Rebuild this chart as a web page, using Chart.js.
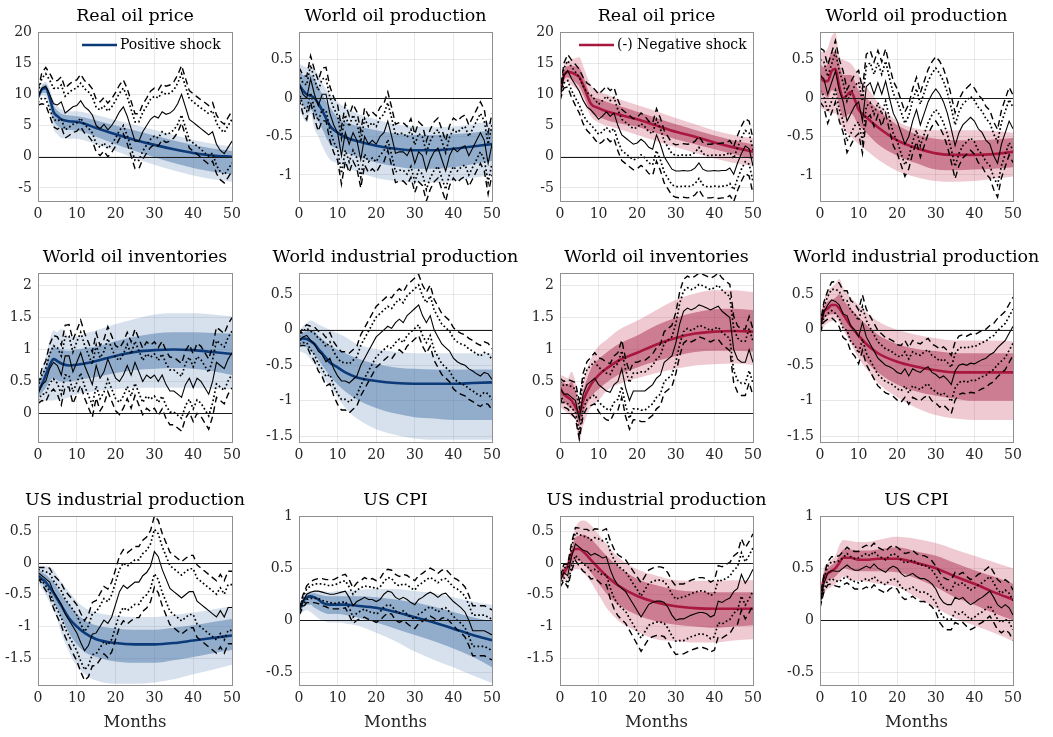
<!DOCTYPE html>
<html>
<head>
<meta charset="utf-8">
<script src="https://cdn.jsdelivr.net/npm/chart.js@4.4.1/dist/chart.umd.min.js"></script>
<style>
  html, body { margin: 0; padding: 0; background: #fff; width: 1053px; height: 737px; overflow: hidden; }
  canvas { position: absolute; }
</style>
</head>
<body>
<script>
// horizons
const months = [0,1,2,3,4,5,6,7,8,9,10,11,12,13,14,15,16,17,18,19,20,21,22,23,24,25,26,27,28,29,30,31,32,33,34,35,36,37,38,39,40,41,42,43,44,45,46,47,48,49,50];
const bandMonths = [0,1,2,3,4,5,6,8,10,12,15,20,25,30,35,40,45,50];
const xTicks = [0, 10, 20, 30, 40, 50];

// tick labels
const yTicksPrice = [-5, 0, 5, 10, 15, 20];
const yTicksProd = [-1, -0.5, 0, 0.5];
const yTicksInv = [0, 0.5, 1, 1.5, 2];
const yTicksIp = [-1.5, -1, -0.5, 0, 0.5];
const yTicksCpi = [-0.5, 0, 0.5, 1];

// ---- Real oil price, positive shock
const rpPosMed   = [9.5,10.8,11.0,9.5,7.2,6.5,6.0,5.7,5.6,5.3,4.6,3.6,2.7,1.9,1.2,0.6,0.2,0.0];
const rpPosInHi  = [9.8,11.3,11.6,10.3,8.2,7.4,6.9,6.6,6.5,6.3,5.8,5.0,4.2,3.4,2.6,1.9,1.3,0.9];
const rpPosInLo  = [9.2,10.2,10.2,8.4,5.8,5.0,4.5,4.3,4.2,3.9,3.2,2.0,0.9,-0.1,-1.0,-1.8,-2.4,-2.8];
const rpPosOutHi = [10.0,11.6,12.0,11.0,9.0,8.1,7.6,7.3,7.3,7.1,6.7,5.9,5.1,4.3,3.5,2.7,2.1,1.6];
const rpPosOutLo = [9.0,9.8,9.6,7.5,4.5,3.6,3.0,2.9,2.9,2.6,2.0,0.9,-0.3,-1.3,-2.2,-3.0,-3.6,-4.0];
const rpPosLP = [9.5,11.0,11.3,10.0,8.5,8.3,8.8,7.0,7.5,8.0,8.2,
  9.0,8.0,7.5,6.7,5.0,4.5,5.2,4.3,5.0,6.0,
  7.2,8.0,6.5,4.5,2.5,2.5,4.0,5.0,6.0,6.5,
  6.2,7.2,6.8,7.0,7.5,8.5,10.0,8.0,6.0,5.5,
  5.0,4.5,4.0,3.5,4.0,2.0,1.0,0.5,1.5,2.5];
const rpPosSe68 = [0.8,1.6,2.0,2.3,2.5,2.6,2.7,2.7,2.8,2.8,2.8,
  2.8,2.9,2.9,2.9,2.9,3.0,3.0,3.0,3.0,3.0,
  3.0,3.0,3.1,3.1,3.1,3.1,3.1,3.1,3.2,3.2,
  3.2,3.2,3.2,3.2,3.2,3.3,3.3,3.3,3.3,3.3,
  3.3,3.3,3.4,3.4,3.4,3.4,3.4,3.4,3.5,3.5];
const rpPosSe90 = [1.2,2.5,3.0,3.4,3.7,3.9,4.0,4.0,4.1,4.1,4.1,
  4.2,4.2,4.2,4.2,4.2,4.3,4.3,4.3,4.3,4.3,
  4.3,4.3,4.4,4.4,4.4,4.4,4.4,4.4,4.5,4.5,
  4.5,4.5,4.5,4.5,4.5,4.6,4.6,4.6,4.6,4.6,
  4.6,4.6,4.7,4.7,4.7,4.7,4.7,4.7,4.8,4.8];

// ---- World oil production, positive shock
const wpPosMed   = [0.18,0.1,0.05,0.03,0.0,-0.07,-0.16,-0.36,-0.45,-0.51,-0.56,-0.62,-0.66,-0.68,-0.68,-0.66,-0.63,-0.6];
const wpPosInHi  = [0.35,0.3,0.28,0.3,0.25,0.15,0.05,-0.12,-0.25,-0.31,-0.36,-0.42,-0.46,-0.48,-0.48,-0.47,-0.45,-0.42];
const wpPosInLo  = [0.0,-0.08,-0.15,-0.15,-0.22,-0.3,-0.4,-0.6,-0.66,-0.71,-0.76,-0.84,-0.89,-0.92,-0.92,-0.9,-0.86,-0.82];
const wpPosOutHi = [0.45,0.42,0.4,0.42,0.38,0.3,0.2,0.05,-0.05,-0.12,-0.2,-0.28,-0.34,-0.37,-0.38,-0.37,-0.34,-0.3];
const wpPosOutLo = [-0.15,-0.25,-0.32,-0.2,-0.4,-0.5,-0.62,-0.8,-0.85,-0.9,-0.96,-1.04,-1.08,-1.1,-1.1,-1.08,-1.04,-1.0];
const wpPosLP = [0.2,0.05,0.0,0.25,0.05,-0.1,0.05,0.05,-0.2,-0.35,-0.45,
  -0.75,-0.45,-0.6,-0.45,-0.55,-0.8,-0.5,-0.6,-0.55,-0.6,
  -0.5,-0.45,-0.3,-0.5,-0.72,-0.7,-0.7,-0.75,-0.65,-0.85,
  -0.7,-0.75,-0.95,-0.8,-0.7,-0.65,-0.8,-0.95,-0.75,-0.65,
  -0.7,-0.65,-0.62,-0.75,-0.65,-0.55,-0.45,-0.55,-0.85,-0.6];
const wpPosSe68 = [0.12,0.15,0.17,0.18,0.19,0.2,0.2,0.21,0.21,0.22,0.22,
  0.23,0.23,0.23,0.23,0.23,0.23,0.23,0.23,0.23,0.23,
  0.24,0.24,0.24,0.24,0.24,0.24,0.24,0.24,0.24,0.24,
  0.24,0.24,0.24,0.24,0.24,0.24,0.24,0.24,0.24,0.24,
  0.25,0.25,0.25,0.25,0.25,0.25,0.25,0.25,0.25,0.25];
const wpPosSe90 = [0.2,0.25,0.28,0.3,0.32,0.33,0.34,0.35,0.35,0.36,0.36,
  0.37,0.37,0.37,0.37,0.37,0.37,0.37,0.37,0.37,0.37,
  0.38,0.38,0.38,0.38,0.38,0.38,0.38,0.38,0.38,0.38,
  0.39,0.39,0.39,0.39,0.39,0.39,0.39,0.39,0.39,0.39,
  0.4,0.4,0.4,0.4,0.4,0.4,0.4,0.4,0.4,0.4];

// ---- Real oil price, negative shock
const rpNegMed   = [10.0,13.0,13.6,13.5,13.2,12.8,11.5,8.5,7.8,7.3,6.8,6.0,5.0,4.0,3.2,2.3,1.5,0.8];
const rpNegInHi  = [10.3,13.8,14.5,14.6,14.5,14.3,13.0,9.8,9.3,8.8,8.2,7.2,6.2,5.2,4.3,3.4,2.6,2.0];
const rpNegInLo  = [9.7,12.2,12.7,12.4,11.9,11.3,10.0,7.2,6.4,5.9,5.4,4.8,3.8,2.8,2.0,1.2,0.4,-0.4];
const rpNegOutHi = [10.5,14.5,15.3,15.6,15.8,16.0,14.5,11.5,10.5,10.0,9.3,8.3,7.3,6.2,5.2,4.2,3.5,3.0];
const rpNegOutLo = [9.5,11.5,12.0,11.5,11.0,10.5,9.0,6.5,5.5,5.0,4.5,3.5,2.5,1.5,0.6,-0.3,-1.0,-1.5];
const rpNegLP = [9.5,13.0,13.8,12.5,11.5,10.5,9.0,8.0,7.5,6.8,6.0,
  6.5,7.2,6.5,7.0,5.0,3.5,3.0,2.5,2.0,2.2,
  2.8,2.3,1.5,1.2,3.5,2.0,0.0,-1.0,-2.0,-2.3,
  -2.3,-2.2,-2.3,-2.2,-1.8,-1.0,-2.0,-2.3,-2.3,-2.2,
  -2.3,-2.2,-2.2,-1.8,-2.8,-1.0,0.5,1.7,1.3,-1.5];
const rpNegSe68 = [0.3,1.2,1.6,1.9,2.1,2.2,2.3,2.3,2.4,2.4,2.4,
  2.5,2.5,2.5,2.5,2.5,2.5,2.5,2.5,2.5,2.5,
  2.5,2.5,2.5,2.5,2.5,2.5,2.5,2.5,2.5,2.5,
  2.5,2.5,2.5,2.5,2.5,2.5,2.5,2.5,2.5,2.5,
  2.5,2.5,2.5,2.5,2.5,2.5,2.5,2.5,2.5,2.5];
const rpNegSe90 = [0.5,2.0,2.6,3.0,3.3,3.5,3.7,3.8,3.9,4.0,4.0,
  4.1,4.1,4.1,4.1,4.1,4.1,4.1,4.1,4.1,4.1,
  4.2,4.2,4.2,4.2,4.2,4.2,4.2,4.2,4.2,4.2,
  4.3,4.3,4.3,4.3,4.3,4.3,4.3,4.3,4.3,4.3,
  4.4,4.4,4.4,4.4,4.4,4.4,4.4,4.4,4.4,4.4];

// ---- World oil production, negative shock
const wpNegMed   = [0.3,0.22,0.22,0.35,0.38,0.15,0.0,0.08,-0.15,-0.25,-0.38,-0.55,-0.65,-0.72,-0.74,-0.74,-0.73,-0.7];
const wpNegInHi  = [0.45,0.4,0.45,0.6,0.6,0.45,0.3,0.3,0.1,0.0,-0.15,-0.35,-0.47,-0.53,-0.55,-0.55,-0.54,-0.52];
const wpNegInLo  = [0.05,0.05,0.0,0.1,0.1,-0.1,-0.25,-0.2,-0.35,-0.45,-0.6,-0.75,-0.85,-0.93,-0.94,-0.93,-0.92,-0.9];
const wpNegOutHi = [0.6,0.6,0.65,0.8,0.85,0.55,0.5,0.45,0.3,0.15,-0.05,-0.3,-0.4,-0.42,-0.42,-0.42,-0.43,-0.45];
const wpNegOutLo = [-0.12,-0.15,-0.18,-0.2,-0.2,-0.3,-0.4,-0.5,-0.6,-0.68,-0.8,-0.95,-1.03,-1.08,-1.09,-1.08,-1.05,-1.02];
const wpNegLP = [0.3,0.25,0.05,0.2,0.35,0.1,-0.05,-0.3,-0.2,-0.1,-0.05,
  -0.3,0.15,0.2,0.05,0.2,0.05,0.22,0.0,-0.2,-0.3,
  -0.45,-0.6,-0.5,-0.3,-0.15,-0.35,-0.2,-0.05,0.05,0.12,
  0.05,-0.05,-0.2,-0.4,-0.62,-0.45,-0.35,-0.3,-0.25,-0.3,
  -0.4,-0.45,-0.55,-0.6,-0.75,-0.85,-0.6,-0.45,-0.3,-0.4];
const wpNegSe68 = [0.2,0.22,0.23,0.24,0.25,0.25,0.25,0.26,0.26,0.26,0.26,
  0.26,0.26,0.26,0.26,0.26,0.26,0.26,0.26,0.26,0.26,
  0.27,0.27,0.27,0.27,0.27,0.27,0.27,0.27,0.27,0.27,
  0.27,0.27,0.27,0.27,0.27,0.27,0.27,0.27,0.27,0.27,
  0.28,0.28,0.28,0.28,0.28,0.28,0.28,0.28,0.28,0.28];
const wpNegSe90 = [0.35,0.37,0.38,0.39,0.4,0.4,0.4,0.41,0.41,0.41,0.41,
  0.42,0.42,0.42,0.42,0.42,0.42,0.42,0.42,0.42,0.42,
  0.42,0.42,0.42,0.42,0.42,0.42,0.42,0.42,0.42,0.42,
  0.43,0.43,0.43,0.43,0.43,0.43,0.43,0.43,0.43,0.43,
  0.44,0.44,0.44,0.44,0.44,0.44,0.44,0.44,0.44,0.44];

// ---- World oil inventories, positive shock
const wiPosMed   = [0.35,0.45,0.6,0.75,0.85,0.82,0.78,0.75,0.76,0.78,0.82,0.9,0.96,0.99,1.0,0.99,0.96,0.93];
const wiPosInHi  = [0.45,0.6,0.75,0.95,1.05,1.02,1.0,0.98,1.0,1.02,1.05,1.13,1.2,1.25,1.27,1.27,1.26,1.25];
const wiPosInLo  = [0.25,0.32,0.4,0.5,0.55,0.52,0.5,0.5,0.52,0.54,0.57,0.63,0.68,0.7,0.71,0.7,0.66,0.6];
const wiPosOutHi = [0.5,0.7,0.9,1.15,1.3,1.27,1.32,1.2,1.2,1.25,1.3,1.4,1.48,1.55,1.57,1.57,1.55,1.52];
const wiPosOutLo = [0.15,0.18,0.2,0.2,0.2,0.22,0.22,0.25,0.3,0.32,0.35,0.38,0.4,0.4,0.4,0.4,0.39,0.38];
const wiPosLP = [0.3,0.45,0.5,0.7,0.8,0.75,0.6,0.9,0.9,0.65,0.8,
  0.95,0.75,0.6,0.45,0.75,0.55,0.65,0.85,0.7,0.55,
  0.5,0.6,0.75,0.6,0.8,0.65,0.5,0.6,0.55,0.6,
  0.5,0.6,0.45,0.35,0.35,0.3,0.25,0.45,0.55,0.4,
  0.55,0.5,0.4,0.3,0.5,0.8,0.75,0.7,0.85,0.95];
const wiPosSe68 = [0.1,0.15,0.2,0.23,0.26,0.28,0.3,0.3,0.31,0.31,0.32,
  0.32,0.32,0.32,0.32,0.32,0.32,0.32,0.32,0.32,0.32,
  0.33,0.33,0.33,0.33,0.33,0.33,0.33,0.33,0.33,0.33,
  0.33,0.33,0.33,0.33,0.33,0.33,0.33,0.33,0.33,0.33,
  0.34,0.34,0.34,0.34,0.34,0.34,0.34,0.34,0.34,0.34];
const wiPosSe90 = [0.15,0.25,0.32,0.38,0.42,0.45,0.47,0.48,0.49,0.5,0.5,
  0.51,0.51,0.51,0.51,0.51,0.51,0.51,0.51,0.51,0.51,
  0.52,0.52,0.52,0.52,0.52,0.52,0.52,0.52,0.52,0.52,
  0.53,0.53,0.53,0.53,0.53,0.53,0.53,0.53,0.53,0.53,
  0.55,0.55,0.55,0.55,0.55,0.55,0.55,0.55,0.55,0.55];

// ---- World industrial production, positive shock
const wipPosMed   = [-0.15,-0.12,-0.13,-0.16,-0.2,-0.27,-0.33,-0.46,-0.53,-0.6,-0.67,-0.72,-0.75,-0.76,-0.76,-0.76,-0.75,-0.74];
const wipPosInHi  = [-0.08,-0.04,-0.02,0.0,-0.02,-0.08,-0.13,-0.22,-0.28,-0.33,-0.4,-0.48,-0.53,-0.55,-0.56,-0.56,-0.56,-0.56];
const wipPosInLo  = [-0.23,-0.22,-0.25,-0.3,-0.35,-0.42,-0.5,-0.65,-0.77,-0.87,-0.98,-1.1,-1.18,-1.23,-1.25,-1.27,-1.27,-1.27];
const wipPosOutHi = [-0.03,0.05,0.1,0.13,0.11,0.08,0.05,0.0,-0.05,-0.1,-0.2,-0.27,-0.31,-0.33,-0.33,-0.33,-0.33,-0.33];
const wipPosOutLo = [-0.3,-0.32,-0.35,-0.42,-0.48,-0.55,-0.65,-0.8,-0.95,-1.1,-1.25,-1.4,-1.48,-1.53,-1.55,-1.55,-1.55,-1.55];
const wipPosLP = [-0.15,-0.1,-0.08,-0.15,-0.2,-0.3,-0.35,-0.45,-0.4,-0.55,-0.65,
  -0.72,-0.72,-0.75,-0.7,-0.65,-0.5,-0.4,-0.3,-0.2,-0.1,
  -0.05,0.0,0.05,0.02,0.1,0.15,0.1,0.2,0.25,0.3,
  0.35,0.2,0.1,0.2,0.0,-0.1,-0.2,-0.25,-0.3,-0.4,
  -0.45,-0.48,-0.5,-0.55,-0.58,-0.62,-0.65,-0.6,-0.62,-0.7];
const wipPosSe68 = [0.05,0.08,0.1,0.13,0.15,0.18,0.2,0.21,0.23,0.24,0.25,
  0.26,0.26,0.27,0.27,0.27,0.28,0.28,0.28,0.28,0.28,
  0.28,0.28,0.28,0.28,0.28,0.28,0.28,0.28,0.28,0.28,
  0.28,0.28,0.28,0.28,0.28,0.28,0.28,0.28,0.28,0.28,
  0.28,0.28,0.28,0.28,0.28,0.28,0.28,0.28,0.28,0.28];
const wipPosSe90 = [0.08,0.12,0.15,0.2,0.24,0.28,0.31,0.34,0.36,0.38,0.4,
  0.41,0.41,0.42,0.42,0.42,0.43,0.43,0.43,0.43,0.43,
  0.43,0.43,0.43,0.43,0.43,0.43,0.43,0.43,0.43,0.43,
  0.43,0.43,0.43,0.43,0.43,0.43,0.43,0.43,0.43,0.43,
  0.43,0.43,0.43,0.43,0.43,0.43,0.43,0.43,0.43,0.43];

// ---- World oil inventories, negative shock
const wiNegMed   = [0.4,0.3,0.25,0.2,0.1,0.0,0.2,0.45,0.6,0.7,0.82,0.95,1.08,1.18,1.25,1.28,1.29,1.28];
const wiNegInHi  = [0.5,0.48,0.45,0.5,0.35,0.1,0.35,0.7,0.85,0.95,1.08,1.22,1.38,1.5,1.58,1.63,1.64,1.62];
const wiNegInLo  = [0.25,0.18,0.12,0.08,0.0,-0.2,0.0,0.25,0.38,0.48,0.6,0.72,0.82,0.9,0.96,0.98,0.98,0.97];
const wiNegOutHi = [0.6,0.58,0.55,0.65,0.5,0.2,0.5,0.85,1.05,1.15,1.3,1.45,1.62,1.78,1.88,1.93,1.93,1.9];
const wiNegOutLo = [0.1,0.05,0.0,-0.05,-0.1,-0.45,-0.2,0.1,0.2,0.35,0.45,0.55,0.63,0.7,0.75,0.77,0.78,0.76];
const wiNegLP = [0.4,0.3,0.3,0.25,0.2,-0.1,0.3,0.45,0.5,0.55,0.45,
  0.4,0.35,0.33,0.45,0.5,0.7,0.4,0.2,0.35,0.35,
  0.35,0.35,0.4,0.45,0.55,0.6,0.8,0.85,0.9,1.1,
  1.4,1.6,1.65,1.62,1.65,1.7,1.68,1.65,1.62,1.65,
  1.68,1.6,1.55,1.5,1.0,0.85,0.8,0.8,1.0,0.8];
const wiNegSe68 = [0.1,0.13,0.15,0.17,0.18,0.2,0.22,0.24,0.25,0.26,0.27,
  0.28,0.28,0.28,0.28,0.28,0.28,0.28,0.28,0.28,0.28,
  0.3,0.3,0.3,0.3,0.3,0.3,0.3,0.3,0.3,0.3,
  0.32,0.32,0.32,0.32,0.32,0.32,0.32,0.32,0.32,0.32,
  0.33,0.33,0.33,0.33,0.33,0.33,0.33,0.33,0.33,0.33];
const wiNegSe90 = [0.15,0.2,0.23,0.26,0.28,0.3,0.33,0.36,0.38,0.4,0.42,
  0.45,0.45,0.45,0.45,0.45,0.45,0.45,0.45,0.45,0.45,
  0.48,0.48,0.48,0.48,0.48,0.48,0.48,0.48,0.48,0.48,
  0.5,0.5,0.5,0.5,0.5,0.5,0.5,0.5,0.5,0.5,
  0.52,0.52,0.52,0.52,0.52,0.52,0.52,0.52,0.52,0.52];

// ---- World industrial production, negative shock
const wipNegMed   = [0.05,0.25,0.3,0.35,0.35,0.3,0.22,0.05,-0.08,-0.2,-0.33,-0.45,-0.52,-0.57,-0.6,-0.6,-0.6,-0.6];
const wipNegInHi  = [0.1,0.32,0.4,0.42,0.45,0.5,0.42,0.3,0.18,0.07,-0.07,-0.2,-0.27,-0.3,-0.33,-0.33,-0.33,-0.33];
const wipNegInLo  = [0.0,0.15,0.2,0.22,0.22,0.15,0.05,-0.15,-0.3,-0.45,-0.6,-0.77,-0.87,-0.93,-0.97,-1.0,-1.0,-1.0];
const wipNegOutHi = [0.2,0.42,0.55,0.6,0.65,0.72,0.6,0.45,0.35,0.25,0.12,0.0,-0.07,-0.12,-0.15,-0.15,-0.15,-0.16];
const wipNegOutLo = [-0.05,0.05,0.1,0.12,0.15,0.1,0.0,-0.2,-0.4,-0.55,-0.75,-0.95,-1.1,-1.2,-1.25,-1.27,-1.27,-1.27];
const wipNegLP = [0.0,0.25,0.35,0.42,0.4,0.35,0.22,0.2,0.05,0.0,-0.1,
  0.1,-0.1,-0.2,-0.3,-0.4,-0.45,-0.5,-0.52,-0.55,-0.6,
  -0.62,-0.55,-0.65,-0.55,-0.58,-0.6,-0.55,-0.52,-0.6,-0.63,
  -0.68,-0.65,-0.7,-0.77,-0.58,-0.5,-0.48,-0.5,-0.47,-0.48,
  -0.45,-0.42,-0.4,-0.35,-0.32,-0.25,-0.2,-0.15,-0.05,0.05];
const wipNegSe68 = [0.03,0.08,0.12,0.15,0.17,0.19,0.2,0.21,0.22,0.22,0.23,
  0.23,0.23,0.23,0.23,0.23,0.23,0.23,0.23,0.23,0.23,
  0.24,0.24,0.24,0.24,0.24,0.24,0.24,0.24,0.24,0.24,
  0.24,0.24,0.24,0.24,0.24,0.24,0.24,0.24,0.24,0.24,
  0.24,0.24,0.24,0.24,0.24,0.24,0.24,0.24,0.24,0.24];
const wipNegSe90 = [0.05,0.14,0.2,0.25,0.28,0.31,0.33,0.35,0.36,0.37,0.38,
  0.39,0.39,0.39,0.39,0.39,0.39,0.39,0.39,0.39,0.39,
  0.4,0.4,0.4,0.4,0.4,0.4,0.4,0.4,0.4,0.4,
  0.41,0.41,0.41,0.41,0.41,0.41,0.41,0.41,0.41,0.41,
  0.41,0.41,0.41,0.41,0.41,0.41,0.41,0.41,0.41,0.41];

// ---- US industrial production, positive shock
const usipPosMed   = [-0.2,-0.25,-0.3,-0.38,-0.47,-0.57,-0.67,-0.87,-1.0,-1.1,-1.2,-1.26,-1.28,-1.28,-1.26,-1.22,-1.18,-1.14];
const usipPosInHi  = [-0.1,-0.14,-0.18,-0.24,-0.3,-0.4,-0.5,-0.65,-0.8,-0.9,-0.98,-1.03,-1.05,-1.05,-1.02,-0.98,-0.93,-0.88];
const usipPosInLo  = [-0.25,-0.32,-0.4,-0.5,-0.6,-0.72,-0.85,-1.1,-1.28,-1.4,-1.48,-1.55,-1.57,-1.57,-1.53,-1.48,-1.42,-1.37];
const usipPosOutHi = [-0.05,-0.05,-0.05,-0.07,-0.1,-0.2,-0.3,-0.45,-0.6,-0.7,-0.78,-0.83,-0.85,-0.85,-0.82,-0.78,-0.73,-0.68];
const usipPosOutLo = [-0.3,-0.4,-0.5,-0.62,-0.75,-0.9,-1.1,-1.4,-1.62,-1.75,-1.85,-1.9,-1.9,-1.88,-1.83,-1.75,-1.68,-1.6];
const usipPosLP = [-0.15,-0.2,-0.25,-0.3,-0.45,-0.55,-0.65,-0.8,-0.9,-1.0,-1.1,
  -1.25,-1.38,-1.3,-1.12,-1.1,-1.0,-0.9,-0.95,-0.85,-0.65,
  -0.45,-0.35,-0.4,-0.35,-0.3,-0.3,-0.2,-0.15,-0.05,0.18,
  0.1,-0.1,-0.25,-0.4,-0.45,-0.5,-0.55,-0.5,-0.45,-0.45,
  -0.6,-0.65,-0.7,-0.75,-0.8,-0.85,-0.75,-0.85,-0.7,-0.7];
const usipPosSe68 = [0.05,0.08,0.11,0.14,0.17,0.19,0.21,0.23,0.25,0.27,0.28,
  0.29,0.3,0.31,0.32,0.33,0.33,0.34,0.34,0.35,0.35,
  0.35,0.35,0.35,0.35,0.35,0.35,0.35,0.35,0.35,0.35,
  0.36,0.36,0.36,0.36,0.36,0.36,0.36,0.36,0.36,0.36,
  0.36,0.36,0.36,0.36,0.36,0.36,0.36,0.36,0.36,0.36];
const usipPosSe90 = [0.08,0.13,0.18,0.22,0.26,0.3,0.33,0.36,0.39,0.42,0.44,
  0.46,0.47,0.49,0.5,0.51,0.52,0.53,0.54,0.55,0.55,
  0.56,0.56,0.56,0.56,0.56,0.56,0.56,0.56,0.56,0.56,
  0.57,0.57,0.57,0.57,0.57,0.57,0.57,0.57,0.57,0.57,
  0.57,0.57,0.57,0.57,0.57,0.57,0.57,0.57,0.57,0.57];

// ---- US CPI, positive shock
const cpiPosMed   = [0.1,0.18,0.22,0.23,0.22,0.2,0.17,0.15,0.15,0.15,0.14,0.12,0.08,0.03,-0.02,-0.08,-0.14,-0.19];
const cpiPosInHi  = [0.11,0.2,0.25,0.26,0.26,0.25,0.24,0.23,0.23,0.23,0.23,0.22,0.2,0.17,0.13,0.08,0.03,-0.01];
const cpiPosInLo  = [0.07,0.12,0.15,0.15,0.12,0.1,0.08,0.06,0.06,0.05,0.03,-0.02,-0.08,-0.14,-0.2,-0.27,-0.35,-0.45];
const cpiPosOutHi = [0.12,0.22,0.27,0.28,0.28,0.28,0.28,0.27,0.28,0.28,0.29,0.3,0.3,0.28,0.26,0.22,0.18,0.15];
const cpiPosOutLo = [0.05,0.08,0.1,0.08,0.05,0.02,0.0,-0.02,-0.02,-0.03,-0.05,-0.12,-0.2,-0.3,-0.38,-0.45,-0.53,-0.6];
const cpiPosLP = [0.08,0.18,0.25,0.27,0.28,0.28,0.27,0.26,0.25,0.25,0.26,
  0.27,0.28,0.22,0.14,0.18,0.2,0.22,0.2,0.2,0.18,
  0.2,0.25,0.28,0.27,0.22,0.2,0.22,0.2,0.17,0.15,
  0.2,0.22,0.25,0.27,0.25,0.22,0.25,0.26,0.22,0.18,
  0.15,0.12,0.08,0.0,-0.1,-0.1,-0.1,-0.1,-0.12,-0.14];
const cpiPosSe68 = [0.02,0.04,0.05,0.06,0.07,0.07,0.08,0.08,0.08,0.09,0.09,
  0.1,0.1,0.1,0.11,0.11,0.11,0.11,0.12,0.12,0.12,
  0.12,0.12,0.13,0.13,0.13,0.13,0.13,0.14,0.14,0.14,
  0.14,0.14,0.14,0.14,0.14,0.14,0.14,0.14,0.14,0.14,
  0.15,0.15,0.15,0.15,0.15,0.15,0.15,0.15,0.15,0.15];
const cpiPosSe90 = [0.03,0.06,0.08,0.1,0.11,0.12,0.13,0.13,0.14,0.14,0.15,
  0.16,0.16,0.17,0.17,0.18,0.18,0.19,0.19,0.2,0.2,
  0.2,0.21,0.21,0.21,0.22,0.22,0.22,0.23,0.23,0.23,
  0.23,0.23,0.23,0.23,0.23,0.23,0.23,0.23,0.23,0.23,
  0.24,0.24,0.24,0.24,0.24,0.24,0.24,0.24,0.24,0.24];

// ---- US industrial production, negative shock
const usipNegMed   = [-0.25,-0.15,-0.05,0.15,0.22,0.22,0.18,0.05,-0.08,-0.2,-0.35,-0.52,-0.62,-0.68,-0.71,-0.72,-0.72,-0.72];
const usipNegInHi  = [-0.15,-0.08,0.0,0.2,0.4,0.43,0.45,0.38,0.25,0.12,-0.05,-0.25,-0.35,-0.42,-0.45,-0.46,-0.46,-0.46];
const usipNegInLo  = [-0.25,-0.2,-0.15,-0.05,0.05,0.03,0.0,-0.15,-0.32,-0.48,-0.65,-0.82,-0.92,-0.97,-1.0,-1.02,-1.0,-0.98];
const usipNegOutHi = [-0.1,-0.02,0.05,0.3,0.55,0.65,0.67,0.6,0.45,0.3,0.1,-0.1,-0.2,-0.27,-0.28,-0.28,-0.27,-0.27];
const usipNegOutLo = [-0.3,-0.28,-0.25,-0.15,-0.1,-0.1,-0.15,-0.3,-0.5,-0.7,-0.9,-1.08,-1.2,-1.23,-1.25,-1.25,-1.22,-1.2];
const usipNegLP = [-0.3,-0.15,-0.2,0.1,0.3,0.25,0.2,0.18,0.12,0.15,0.12,
  0.08,0.1,-0.1,-0.25,-0.35,-0.4,-0.45,-0.55,-0.65,-0.75,
  -0.85,-0.75,-0.65,-0.62,-0.6,-0.6,-0.62,-0.7,-0.82,-0.9,
  -0.88,-0.88,-0.85,-0.82,-0.8,-0.78,-0.78,-0.8,-0.85,-0.82,
  -0.6,-0.62,-0.58,-0.55,-0.45,-0.4,-0.18,-0.32,-0.22,-0.1];
const usipNegSe68 = [0.05,0.08,0.12,0.15,0.18,0.2,0.22,0.23,0.24,0.25,0.26,
  0.27,0.28,0.29,0.3,0.3,0.31,0.31,0.32,0.32,0.33,
  0.33,0.33,0.33,0.33,0.33,0.33,0.33,0.33,0.33,0.33,
  0.34,0.34,0.34,0.34,0.34,0.34,0.34,0.34,0.34,0.34,
  0.34,0.34,0.34,0.34,0.34,0.34,0.34,0.34,0.34,0.34];
const usipNegSe90 = [0.08,0.13,0.18,0.22,0.26,0.3,0.33,0.35,0.37,0.39,0.41,
  0.43,0.44,0.46,0.47,0.48,0.49,0.5,0.51,0.52,0.53,
  0.54,0.54,0.54,0.54,0.54,0.54,0.54,0.54,0.54,0.54,
  0.55,0.55,0.55,0.55,0.55,0.55,0.55,0.55,0.55,0.55,
  0.56,0.56,0.56,0.56,0.56,0.56,0.56,0.56,0.56,0.56];

// ---- US CPI, negative shock
const cpiNegMed   = [0.2,0.4,0.45,0.47,0.5,0.55,0.6,0.6,0.58,0.58,0.59,0.59,0.55,0.5,0.42,0.35,0.27,0.2];
const cpiNegInHi  = [0.22,0.45,0.5,0.53,0.56,0.62,0.68,0.68,0.67,0.67,0.68,0.7,0.66,0.62,0.55,0.48,0.42,0.35];
const cpiNegInLo  = [0.18,0.33,0.38,0.4,0.42,0.46,0.5,0.48,0.47,0.47,0.47,0.46,0.4,0.32,0.22,0.15,0.07,0.0];
const cpiNegOutHi = [0.25,0.5,0.55,0.58,0.62,0.72,0.77,0.76,0.75,0.75,0.77,0.8,0.78,0.74,0.68,0.62,0.56,0.5];
const cpiNegOutLo = [0.15,0.25,0.3,0.32,0.35,0.38,0.42,0.38,0.38,0.37,0.35,0.32,0.22,0.12,0.02,-0.05,-0.12,-0.2];
const cpiNegLP = [0.15,0.35,0.45,0.48,0.47,0.47,0.5,0.53,0.5,0.48,0.48,
  0.5,0.52,0.5,0.54,0.5,0.48,0.46,0.5,0.52,0.5,
  0.45,0.42,0.43,0.45,0.42,0.4,0.4,0.38,0.35,0.3,
  0.22,0.17,0.15,0.15,0.22,0.2,0.22,0.18,0.15,0.17,
  0.2,0.22,0.25,0.28,0.22,0.15,0.12,0.15,0.12,0.05];
const cpiNegSe68 = [0.02,0.05,0.07,0.08,0.09,0.1,0.1,0.11,0.11,0.11,0.12,
  0.12,0.12,0.12,0.12,0.12,0.12,0.12,0.12,0.12,0.12,
  0.13,0.13,0.13,0.13,0.13,0.13,0.13,0.13,0.13,0.13,
  0.14,0.14,0.14,0.14,0.14,0.14,0.14,0.14,0.14,0.14,
  0.14,0.14,0.14,0.14,0.14,0.14,0.14,0.14,0.14,0.14];
const cpiNegSe90 = [0.03,0.08,0.11,0.13,0.14,0.15,0.16,0.17,0.17,0.18,0.18,
  0.2,0.2,0.2,0.2,0.2,0.2,0.2,0.2,0.2,0.2,
  0.22,0.22,0.22,0.22,0.22,0.22,0.22,0.22,0.22,0.22,
  0.24,0.24,0.24,0.24,0.24,0.24,0.24,0.24,0.24,0.24,
  0.24,0.24,0.24,0.24,0.24,0.24,0.24,0.24,0.24,0.24];

// colours
const BLUE = { line: '#0c3a78', outer: 'rgba(82,126,177,0.23)', inner: 'rgba(70,114,165,0.48)' };
const RED  = { line: '#a8173d', outer: 'rgba(200,60,90,0.27)', inner: 'rgba(170,48,80,0.5)' };

const panels = [
  { title: 'Real oil price', c: BLUE, yMin: -7.1, yMax: 20, yTicks: yTicksPrice, legend: 'Positive shock', legendX: 44,
    med: rpPosMed, inHi: rpPosInHi, inLo: rpPosInLo, outHi: rpPosOutHi, outLo: rpPosOutLo, lp: rpPosLP, se68: rpPosSe68, se90: rpPosSe90 },
  { title: 'World oil production', c: BLUE, yMin: -1.34, yMax: 0.86, yTicks: yTicksProd,
    med: wpPosMed, inHi: wpPosInHi, inLo: wpPosInLo, outHi: wpPosOutHi, outLo: wpPosOutLo, lp: wpPosLP, se68: wpPosSe68, se90: wpPosSe90 },
  { title: 'Real oil price', c: RED, yMin: -7.1, yMax: 20, yTicks: yTicksPrice, legend: '(-) Negative shock', legendX: 19,
    med: rpNegMed, inHi: rpNegInHi, inLo: rpNegInLo, outHi: rpNegOutHi, outLo: rpNegOutLo, lp: rpNegLP, se68: rpNegSe68, se90: rpNegSe90 },
  { title: 'World oil production', c: RED, yMin: -1.34, yMax: 0.86, yTicks: yTicksProd,
    med: wpNegMed, inHi: wpNegInHi, inLo: wpNegInLo, outHi: wpNegOutHi, outLo: wpNegOutLo, lp: wpNegLP, se68: wpNegSe68, se90: wpNegSe90 },
  { title: 'World oil inventories', c: BLUE, yMin: -0.45, yMax: 2.2, yTicks: yTicksInv,
    med: wiPosMed, inHi: wiPosInHi, inLo: wiPosInLo, outHi: wiPosOutHi, outLo: wiPosOutLo, lp: wiPosLP, se68: wiPosSe68, se90: wiPosSe90 },
  { title: 'World industrial production', c: BLUE, yMin: -1.58, yMax: 0.8, yTicks: yTicksIp,
    med: wipPosMed, inHi: wipPosInHi, inLo: wipPosInLo, outHi: wipPosOutHi, outLo: wipPosOutLo, lp: wipPosLP, se68: wipPosSe68, se90: wipPosSe90 },
  { title: 'World oil inventories', c: RED, yMin: -0.45, yMax: 2.2, yTicks: yTicksInv,
    med: wiNegMed, inHi: wiNegInHi, inLo: wiNegInLo, outHi: wiNegOutHi, outLo: wiNegOutLo, lp: wiNegLP, se68: wiNegSe68, se90: wiNegSe90 },
  { title: 'World industrial production', c: RED, yMin: -1.58, yMax: 0.8, yTicks: yTicksIp,
    med: wipNegMed, inHi: wipNegInHi, inLo: wipNegInLo, outHi: wipNegOutHi, outLo: wipNegOutLo, lp: wipNegLP, se68: wipNegSe68, se90: wipNegSe90 },
  { title: 'US industrial production', c: BLUE, yMin: -1.92, yMax: 0.74, yTicks: yTicksIp,
    med: usipPosMed, inHi: usipPosInHi, inLo: usipPosInLo, outHi: usipPosOutHi, outLo: usipPosOutLo, lp: usipPosLP, se68: usipPosSe68, se90: usipPosSe90 },
  { title: 'US CPI', c: BLUE, yMin: -0.62, yMax: 1, yTicks: yTicksCpi,
    med: cpiPosMed, inHi: cpiPosInHi, inLo: cpiPosInLo, outHi: cpiPosOutHi, outLo: cpiPosOutLo, lp: cpiPosLP, se68: cpiPosSe68, se90: cpiPosSe90 },
  { title: 'US industrial production', c: RED, yMin: -1.92, yMax: 0.74, yTicks: yTicksIp,
    med: usipNegMed, inHi: usipNegInHi, inLo: usipNegInLo, outHi: usipNegOutHi, outLo: usipNegOutLo, lp: usipNegLP, se68: usipNegSe68, se90: usipNegSe90 },
  { title: 'US CPI', c: RED, yMin: -0.62, yMax: 1, yTicks: yTicksCpi,
    med: cpiNegMed, inHi: cpiNegInHi, inLo: cpiNegInLo, outHi: cpiNegOutHi, outLo: cpiNegOutLo, lp: cpiNegLP, se68: cpiNegSe68, se90: cpiNegSe90 }
];

// grid placement of the 12 axes
const colLeft = [38, 299, 560, 820];
const colWidth = [194, 193, 193, 193];
const rowTop = [32, 273, 516];
const plotHeight = 169;
const SERIF = '"DejaVu Serif", "Liberation Serif", serif';

Chart.defaults.font.family = SERIF;

// box, zero line, title and legend drawn inside each axes
const panelDecor = {
  id: 'panelDecor',
  afterDatasetsDraw(chart) {
    const { ctx, chartArea: a, scales } = chart;
    const y0 = Math.round(scales.y.getPixelForValue(0)) + 0.5;
    ctx.save();
    ctx.strokeStyle = '#1a1a1a';
    ctx.lineWidth = 1;
    ctx.beginPath();
    ctx.moveTo(a.left, y0);
    ctx.lineTo(a.right, y0);
    ctx.stroke();
    ctx.restore();
  },
  afterDraw(chart, args, opts) {
    const { ctx, chartArea: a } = chart;
    ctx.save();
    ctx.strokeStyle = '#8f8f8f';
    ctx.lineWidth = 1;
    ctx.strokeRect(Math.round(a.left) + 0.5, Math.round(a.top) + 0.5,
      Math.round(a.right - a.left), Math.round(a.bottom - a.top));
    ctx.fillStyle = '#000';
    ctx.font = '17.5px ' + SERIF;
    ctx.textAlign = 'center';
    ctx.textBaseline = 'alphabetic';
    ctx.fillText(opts.title, (a.left + a.right) / 2, a.top - 11);
    if (opts.legend) {
      const ly = a.top + 13;
      ctx.strokeStyle = opts.color;
      ctx.lineWidth = 2.6;
      ctx.beginPath();
      ctx.moveTo(a.left + opts.legendX, ly);
      ctx.lineTo(a.left + opts.legendX + 35, ly);
      ctx.stroke();
      ctx.font = '14px ' + SERIF;
      ctx.textAlign = 'left';
      ctx.textBaseline = 'middle';
      ctx.fillText(opts.legend, a.left + opts.legendX + 38, ly);
    }
    ctx.restore();
  }
};

function buildDatasets(p) {
  const band = ys => bandMonths.map((m, i) => ({ x: m, y: ys[i] }));
  const path = (k, w) => months.map((m, i) => ({ x: m, y: p.lp[i] + k * w[i] }));
  const edge = { borderWidth: 0, borderColor: 'transparent', pointRadius: 0, cubicInterpolationMode: 'monotone' };
  const black = { borderColor: '#000', pointRadius: 0, tension: 0, fill: false };
  return [
    { ...edge, data: band(p.outLo), fill: false, order: 6 },
    { ...edge, data: band(p.outHi), fill: '-1', backgroundColor: p.c.outer, order: 6 },
    { ...edge, data: band(p.inLo), fill: false, order: 5 },
    { ...edge, data: band(p.inHi), fill: '-1', backgroundColor: p.c.inner, order: 5 },
    { data: band(p.med), borderColor: p.c.line, borderWidth: 2.6, pointRadius: 0,
      cubicInterpolationMode: 'monotone', fill: false, order: 3 },
    { ...black, data: path(1, p.se90), borderWidth: 1.4, borderDash: [6.5, 4], order: 2 },
    { ...black, data: path(-1, p.se90), borderWidth: 1.4, borderDash: [6.5, 4], order: 2 },
    { ...black, data: path(1, p.se68), borderWidth: 1.7, borderDash: [1.7, 2.4], order: 2 },
    { ...black, data: path(-1, p.se68), borderWidth: 1.7, borderDash: [1.7, 2.4], order: 2 },
    { ...black, data: path(0, p.se68), borderWidth: 1.1, order: 1 }
  ];
}

panels.forEach((p, k) => {
  const row = Math.floor(k / 4), col = k % 4;
  const bottomRow = row === 2;
  const axisH = bottomRow ? 52 : 26;
  const w = 50 + colWidth[col] + 40;
  const h = 30 + plotHeight + axisH;
  const canvas = document.createElement('canvas');
  canvas.width = w;
  canvas.height = h;
  canvas.style.left = (colLeft[col] - 50) + 'px';
  canvas.style.top = (rowTop[row] - 30) + 'px';
  canvas.style.width = w + 'px';
  canvas.style.height = h + 'px';
  document.body.appendChild(canvas);

  new Chart(canvas, {
    type: 'line',
    data: { datasets: buildDatasets(p) },
    plugins: [panelDecor],
    options: {
      responsive: false,
      animation: false,
      events: [],
      layout: { padding: { top: 30, right: 40, left: 0, bottom: 0 } },
      plugins: {
        legend: { display: false },
        tooltip: { enabled: false },
        title: { display: false },
        panelDecor: { title: p.title, legend: p.legend, legendX: p.legendX, color: p.c.line }
      },
      scales: {
        x: {
          type: 'linear',
          min: 0,
          max: 50,
          afterBuildTicks: s => { s.ticks = xTicks.map(v => ({ value: v })); },
          afterFit: s => { s.height = axisH; },
          ticks: { color: '#262626', font: { size: 14 }, padding: 5, maxRotation: 0, autoSkip: false },
          grid: { color: 'rgba(0,0,0,0.09)', lineWidth: 1, drawTicks: false },
          border: { display: false },
          title: {
            display: bottomRow,
            text: 'Months',
            color: '#262626',
            font: { size: 16.5 },
            padding: { top: 0, bottom: 4 }
          }
        },
        y: {
          type: 'linear',
          min: p.yMin,
          max: p.yMax,
          afterBuildTicks: s => { s.ticks = p.yTicks.map(v => ({ value: v })); },
          afterFit: s => { s.width = 50; },
          ticks: { color: '#262626', font: { size: 14 }, padding: 6, autoSkip: false, callback: v => String(v) },
          grid: { color: 'rgba(0,0,0,0.09)', lineWidth: 1, drawTicks: false },
          border: { display: false }
        }
      }
    }
  });
});
</script>
</body>
</html>
